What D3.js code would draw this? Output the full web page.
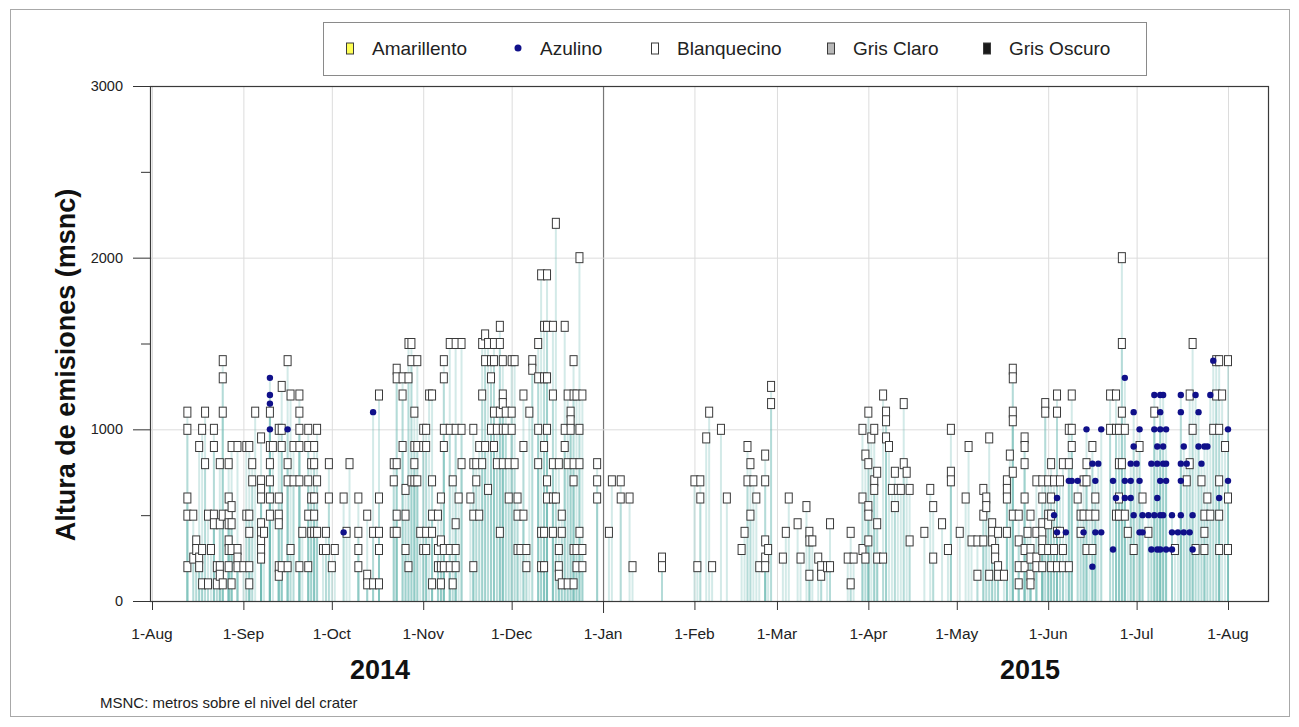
<!DOCTYPE html>
<html>
<head>
<meta charset="utf-8">
<script src="https://cdn.jsdelivr.net/npm/d3@7"></script>
<style>
  body { margin: 0; background: #fff; }
  svg { display: block; font-family: "Liberation Sans", Arial, sans-serif; }
</style>
</head>
<body>
<svg id="chart" width="1299" height="727"></svg>
<script>
// Month ticks and their labels
const monthTicks = ["2014-08-01","2014-09-01","2014-10-01","2014-11-01","2014-12-01","2015-01-01",
  "2015-02-01","2015-03-01","2015-04-01","2015-05-01","2015-06-01","2015-07-01","2015-08-01"];
const monthLabels = ["1-Aug","1-Sep","1-Oct","1-Nov","1-Dec","1-Jan","1-Feb","1-Mar","1-Apr","1-May","1-Jun","1-Jul","1-Aug"];
const yMajorTicks = [0, 1000, 2000, 3000];
const yMinorTicks = [500, 1500, 2500];
const yearLabels = ["2014", "2015"];
const legendItems = ["Amarillento", "Azulino", "Blanquecino", "Gris Claro", "Gris Oscuro"];

// Emission heights (m above crater) per observation day, whitish plumes
const blanquecino = [
["2014-08-13",[1100,1000,600,500,200]],
["2014-08-15",[500,250]],
["2014-08-16",[350,300]],
["2014-08-17",[900,250,200]],
["2014-08-18",[1000,300,100]],
["2014-08-19",[1100,800]],
["2014-08-20",[500,100]],
["2014-08-21",[300]],
["2014-08-22",[1000,900,500,450]],
["2014-08-23",[200,100]],
["2014-08-24",[800,450,200,150]],
["2014-08-25",[1400,1300,1100,500,100]],
["2014-08-27",[800,600,500,450,350,300,200]],
["2014-08-28",[900,550,450,300,100]],
["2014-08-30",[900,300,250,200]],
["2014-09-01",[200]],
["2014-09-02",[900,500]],
["2014-09-03",[900,500,400,200,100]],
["2014-09-04",[800,700]],
["2014-09-05",[1100]],
["2014-09-07",[950,700,650,600,450,400,350,300,250]],
["2014-09-08",[400]],
["2014-09-10",[1100,900,800,700,600,500]],
["2014-09-11",[900]],
["2014-09-13",[1000,600,500,450,200,150]],
["2014-09-14",[1250,1000,900,200]],
["2014-09-16",[1400,800,700,200]],
["2014-09-17",[1200,300]],
["2014-09-18",[900,700]],
["2014-09-20",[1200,1100,1000,900,700,200]],
["2014-09-21",[400]],
["2014-09-23",[1000,900,700,500,200]],
["2014-09-24",[800,600,400]],
["2014-09-25",[900,800,600,500,400]],
["2014-09-26",[1000,700,400]],
["2014-09-28",[300]],
["2014-09-29",[400,300]],
["2014-09-30",[800,600]],
["2014-10-01",[200]],
["2014-10-02",[300]],
["2014-10-05",[600]],
["2014-10-06",[400]],
["2014-10-07",[800]],
["2014-10-10",[600,400,300,200]],
["2014-10-13",[500,150,100]],
["2014-10-15",[400,100]],
["2014-10-17",[1200,600,400,300,100]],
["2014-10-22",[800,700,400]],
["2014-10-23",[1350,1300,800,500,400]],
["2014-10-25",[1300,1200,900]],
["2014-10-26",[650,500,300]],
["2014-10-27",[1500,1300,200]],
["2014-10-28",[1500,1400,700]],
["2014-10-29",[1100,900,800,700]],
["2014-10-30",[1400,900,700]],
["2014-10-31",[400]],
["2014-11-01",[1000,900,300]],
["2014-11-02",[1000,900,400,300]],
["2014-11-03",[1200]],
["2014-11-04",[1200,700,500,400,100]],
["2014-11-06",[500,300,200]],
["2014-11-07",[600,350,200,100]],
["2014-11-08",[1400,1300,1000,900,300,200]],
["2014-11-10",[1500,1000,300,200]],
["2014-11-11",[700,100]],
["2014-11-12",[1500,1000,450,300,200]],
["2014-11-13",[600]],
["2014-11-14",[1500,1000,800]],
["2014-11-17",[600]],
["2014-11-18",[1000,800,500,200]],
["2014-11-19",[800,700]],
["2014-11-20",[900,500]],
["2014-11-21",[1500,1200,800]],
["2014-11-22",[1550,1400,900]],
["2014-11-23",[1500,650]],
["2014-11-24",[1400,1300,1000]],
["2014-11-25",[1500,1400,1100,900]],
["2014-11-26",[1000,800]],
["2014-11-27",[1600,1500,1100,400]],
["2014-11-28",[1400,1200,1150,1000,800]],
["2014-11-29",[1100,1000]],
["2014-11-30",[800,600]],
["2014-12-01",[1400,1100,1000]],
["2014-12-02",[1400,800]],
["2014-12-03",[600,500,300]],
["2014-12-04",[300]],
["2014-12-05",[1200,900,500]],
["2014-12-06",[300,200]],
["2014-12-07",[1100]],
["2014-12-08",[1400,1350]],
["2014-12-10",[1500,1300,1000,800]],
["2014-12-11",[1900,400,200]],
["2014-12-12",[1600,1300,900,400,200]],
["2014-12-13",[1900,1600,1300,1000,700,600]],
["2014-12-15",[1600,1200,800,600,400]],
["2014-12-16",[2200,600]],
["2014-12-17",[800,300,200,150]],
["2014-12-18",[500,400,100]],
["2014-12-19",[1600,1000,900]],
["2014-12-20",[1200,800,100]],
["2014-12-21",[1100,1050,1000]],
["2014-12-22",[1400,1200,800,700,300,100]],
["2014-12-23",[1200,300,200]],
["2014-12-24",[2000,1000,800,400]],
["2014-12-25",[1200,300,200]],
["2014-12-30",[800,700,600]],
["2015-01-03",[400]],
["2015-01-04",[700]],
["2015-01-07",[700,600]],
["2015-01-10",[600]],
["2015-01-11",[200]],
["2015-01-21",[250,200]],
["2015-02-01",[700]],
["2015-02-02",[200]],
["2015-02-03",[700,600]],
["2015-02-05",[950]],
["2015-02-06",[1100]],
["2015-02-07",[200]],
["2015-02-10",[1000]],
["2015-02-12",[600]],
["2015-02-17",[300]],
["2015-02-18",[400]],
["2015-02-19",[900,700]],
["2015-02-20",[800,500]],
["2015-02-21",[700]],
["2015-02-22",[600]],
["2015-02-23",[200]],
["2015-02-25",[850,700,350,250,200]],
["2015-02-26",[300]],
["2015-02-27",[1250,1150]],
["2015-03-03",[250]],
["2015-03-04",[400]],
["2015-03-05",[600]],
["2015-03-08",[450]],
["2015-03-09",[250]],
["2015-03-11",[550]],
["2015-03-12",[400,350,150]],
["2015-03-13",[350]],
["2015-03-15",[250]],
["2015-03-16",[200,150]],
["2015-03-18",[200]],
["2015-03-19",[450,200]],
["2015-03-25",[250]],
["2015-03-26",[400,100]],
["2015-03-27",[250]],
["2015-03-30",[1000,600,300]],
["2015-03-31",[850,250]],
["2015-04-01",[1100,800,550,500,350]],
["2015-04-02",[950]],
["2015-04-03",[1000,700,650]],
["2015-04-04",[750,450,250]],
["2015-04-06",[1200,250]],
["2015-04-07",[1100,1050,950]],
["2015-04-08",[900]],
["2015-04-09",[650]],
["2015-04-10",[750,550]],
["2015-04-11",[650]],
["2015-04-12",[650]],
["2015-04-13",[1150,800]],
["2015-04-14",[750]],
["2015-04-15",[650,350]],
["2015-04-20",[400]],
["2015-04-22",[650]],
["2015-04-23",[550,250]],
["2015-04-26",[450]],
["2015-04-28",[300]],
["2015-04-29",[1000,750,700]],
["2015-05-02",[400]],
["2015-05-04",[600]],
["2015-05-05",[900]],
["2015-05-06",[350]],
["2015-05-08",[350,150]],
["2015-05-10",[650,500,350]],
["2015-05-11",[600,550]],
["2015-05-12",[950,150]],
["2015-05-13",[450,400,350]],
["2015-05-14",[300,250]],
["2015-05-15",[400,200,150]],
["2015-05-17",[150]],
["2015-05-18",[700,650,600,400]],
["2015-05-19",[850]],
["2015-05-20",[1350,1300,1100,1050,750,500]],
["2015-05-22",[500,350,200,100]],
["2015-05-24",[950,900,800,600,300,200]],
["2015-05-25",[400]],
["2015-05-26",[500,300,250,150,100]],
["2015-05-28",[700,400,250,200]],
["2015-05-30",[700,600,450,400,350,300,200]],
["2015-05-31",[1150,1100]],
["2015-06-01",[700,500,450,300]],
["2015-06-02",[800,600,500,200]],
["2015-06-03",[700,300]],
["2015-06-04",[1200,1100,400,200]],
["2015-06-05",[700,400]],
["2015-06-06",[800,300,200]],
["2015-06-08",[1000,800,200]],
["2015-06-09",[1200,1000,900]],
["2015-06-11",[600]],
["2015-06-12",[500,400]],
["2015-06-13",[700,500]],
["2015-06-14",[800,700,300]],
["2015-06-15",[500]],
["2015-06-16",[900,300]],
["2015-06-17",[600,500]],
["2015-06-22",[1200,1000]],
["2015-06-24",[1200,1000,500]],
["2015-06-25",[1000,800,600,500]],
["2015-06-26",[2000,1500,1100,800]],
["2015-06-27",[1000,500]],
["2015-06-28",[400]],
["2015-06-30",[300]],
["2015-07-02",[900]],
["2015-07-03",[600]],
["2015-07-05",[400]],
["2015-07-07",[1100]],
["2015-07-14",[300]],
["2015-07-18",[700]],
["2015-07-19",[1200,800]],
["2015-07-20",[1500,1000]],
["2015-07-21",[300]],
["2015-07-23",[700]],
["2015-07-24",[500,400,300]],
["2015-07-25",[600]],
["2015-07-26",[500]],
["2015-07-27",[1000]],
["2015-07-28",[1400,1200]],
["2015-07-29",[1400,1000,700,500,300]],
["2015-07-30",[1200]],
["2015-07-31",[900]],
["2015-08-01",[1400,600,300]]
];

// Bluish plumes
const azulino = [
["2014-09-10",[1300,1200,1150,1000]],
["2014-09-16",[1000]],
["2014-10-05",[400]],
["2014-10-15",[1100]],
["2015-06-03",[500]],
["2015-06-04",[600,400]],
["2015-06-07",[400]],
["2015-06-08",[700]],
["2015-06-09",[700]],
["2015-06-11",[700]],
["2015-06-13",[400]],
["2015-06-14",[1000]],
["2015-06-16",[800,200]],
["2015-06-17",[700,400]],
["2015-06-18",[800]],
["2015-06-19",[1000,400]],
["2015-06-23",[700,300]],
["2015-06-24",[600]],
["2015-06-27",[1300,700,600]],
["2015-06-29",[800,700,600]],
["2015-06-30",[1100,900,500]],
["2015-07-01",[800]],
["2015-07-02",[1000,700,400]],
["2015-07-03",[500,400]],
["2015-07-05",[500]],
["2015-07-06",[800,300]],
["2015-07-07",[1200,1000,500]],
["2015-07-08",[900,800,600,300]],
["2015-07-09",[1200,1100,1000,700,500,300]],
["2015-07-10",[1200,900,800,500]],
["2015-07-11",[1000,800,700,300]],
["2015-07-13",[500,400,300]],
["2015-07-15",[400]],
["2015-07-16",[1200,1100,800,700,500]],
["2015-07-17",[900,400]],
["2015-07-18",[800]],
["2015-07-19",[400]],
["2015-07-20",[500,300]],
["2015-07-21",[1200]],
["2015-07-22",[1100,900]],
["2015-07-23",[800]],
["2015-07-24",[900]],
["2015-07-25",[900]],
["2015-07-26",[1200]],
["2015-07-27",[1400]],
["2015-07-29",[600]],
["2015-08-01",[1000,700]]
];

const parse = d3.utcParse("%Y-%m-%d");
const svg = d3.select("#chart");

const plot = { left: 150, right: 1268, top: 86, bottom: 601 };
const x = d3.scaleUtc()
  .domain([parse("2014-08-01"), parse("2015-08-01")])
  .range([152, 1228]);
const y = d3.scaleLinear().domain([0, 3000]).range([plot.bottom, plot.top]);

// outer frame
svg.append("rect")
  .attr("x", 10.5).attr("y", 9.5).attr("width", 1279).attr("height", 707)
  .attr("fill", "#fff").attr("stroke", "#a8a8a8");

// grid
const grid = svg.append("g");
grid.selectAll("line.v").data(monthTicks).join("line")
  .attr("x1", d => x(parse(d)) + 0.5).attr("x2", d => x(parse(d)) + 0.5)
  .attr("y1", plot.top).attr("y2", plot.bottom)
  .attr("stroke", d => d === "2015-01-01" ? "#777" : "#dcdcdc")
  .attr("stroke-width", d => d === "2015-01-01" ? 1.2 : 1);
grid.selectAll("line.h").data([1000, 2000]).join("line")
  .attr("x1", plot.left).attr("x2", plot.right)
  .attr("y1", d => y(d) + 0.5).attr("y2", d => y(d) + 0.5)
  .attr("stroke", "#dcdcdc");

// observations flattened
const pts = [];
blanquecino.forEach(([d, vs]) => vs.forEach(v => pts.push({ date: parse(d), v, kind: "b" })));
azulino.forEach(([d, vs]) => vs.forEach(v => pts.push({ date: parse(d), v, kind: "a" })));

// drop lines from the base to each observation
svg.append("g").selectAll("line").data(pts).join("line")
  .attr("x1", d => x(d.date)).attr("x2", d => x(d.date))
  .attr("y1", y(0)).attr("y2", d => y(d.v))
  .attr("stroke", "#6cb8b2").attr("stroke-opacity", 0.3).attr("stroke-width", 2);

// markers
const mk = svg.append("g");
mk.selectAll("rect").data(pts.filter(p => p.kind === "b")).join("rect")
  .attr("x", d => x(d.date) - 3.5).attr("y", d => y(d.v) - 5)
  .attr("width", 7).attr("height", 10)
  .attr("fill", "#fff").attr("stroke", "#3a3a3a").attr("stroke-width", 1);
mk.selectAll("circle").data(pts.filter(p => p.kind === "a")).join("circle")
  .attr("cx", d => x(d.date)).attr("cy", d => y(d.v)).attr("r", 3.2)
  .attr("fill", "#10108a");

// plot frame
svg.append("rect")
  .attr("x", plot.left + 0.5).attr("y", plot.top + 0.5)
  .attr("width", plot.right - plot.left).attr("height", plot.bottom - plot.top)
  .attr("fill", "none").attr("stroke", "#3a3a3a").attr("stroke-width", 1.2);

// x axis
const xa = svg.append("g");
xa.selectAll("line").data(monthTicks).join("line")
  .attr("x1", d => x(parse(d)) + 0.5).attr("x2", d => x(parse(d)) + 0.5)
  .attr("y1", plot.bottom).attr("y2", d => plot.bottom + (d === "2015-01-01" ? 12 : 9))
  .attr("stroke", "#333");
xa.selectAll("text").data(monthTicks).join("text")
  .attr("x", d => x(parse(d))).attr("y", 639)
  .attr("text-anchor", "middle").attr("font-size", 15.5).attr("fill", "#222")
  .text((d, i) => monthLabels[i]);

// y axis
const ya = svg.append("g");
ya.selectAll("line.maj").data(yMajorTicks).join("line")
  .attr("x1", plot.left - 17).attr("x2", plot.left)
  .attr("y1", d => y(d) + 0.5).attr("y2", d => y(d) + 0.5).attr("stroke", "#333");
ya.selectAll("line.min").data(yMinorTicks).join("line")
  .attr("x1", plot.left - 9).attr("x2", plot.left)
  .attr("y1", d => y(d) + 0.5).attr("y2", d => y(d) + 0.5).attr("stroke", "#333");
ya.selectAll("text").data(yMajorTicks).join("text")
  .attr("x", 123).attr("y", d => y(d) + 5)
  .attr("text-anchor", "end").attr("font-size", 14.5).attr("fill", "#222")
  .text(d => d);

svg.append("text")
  .attr("transform", "translate(75,365) rotate(-90)")
  .attr("text-anchor", "middle").attr("font-size", 27).attr("font-weight", "bold")
  .attr("fill", "#111").text("Altura de emisiones (msnc)");

// year labels
svg.append("text").attr("x", 380).attr("y", 679).attr("text-anchor", "middle")
  .attr("font-size", 27).attr("font-weight", "bold").attr("fill", "#111").text(yearLabels[0]);
svg.append("text").attr("x", 1030).attr("y", 679).attr("text-anchor", "middle")
  .attr("font-size", 27).attr("font-weight", "bold").attr("fill", "#111").text(yearLabels[1]);

svg.append("text").attr("x", 100).attr("y", 708)
  .attr("font-size", 15).attr("fill", "#222").text("MSNC: metros sobre el nivel del crater");

// legend
const lg = svg.append("g");
lg.append("rect").attr("x", 323.5).attr("y", 22.5).attr("width", 823).attr("height", 53)
  .attr("fill", "#fff").attr("stroke", "#8a8a8a");
const legX = [350, 518, 655, 831, 987];
const legFill = ["#ffff55", "#10108a", "#fff", "#b8b8b8", "#1a1a1a"];
legendItems.forEach((name, i) => {
  if (name === "Azulino") {
    lg.append("circle").attr("cx", legX[i]).attr("cy", 48).attr("r", 3.5).attr("fill", legFill[i]);
  } else {
    lg.append("rect").attr("x", legX[i] - 3.5).attr("y", 43).attr("width", 7).attr("height", 11)
      .attr("fill", legFill[i]).attr("stroke", "#3a3a3a").attr("stroke-width", 1);
  }
  lg.append("text").attr("x", legX[i] + 22).attr("y", 55)
    .attr("font-size", 19).attr("fill", "#222").text(name);
});
</script>
</body>
</html>
